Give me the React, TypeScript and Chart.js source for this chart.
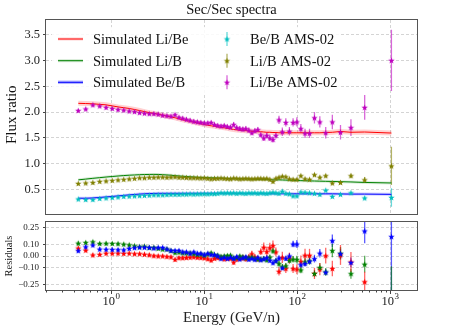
import React, { useEffect, useRef } from "react";
import { Chart, registerables } from "chart.js";
Chart.register(...registerables);

const FONT = '"Liberation Serif", "DejaVu Serif", serif';

// Kinetic energy per nucleon (GeV/n) of the AMS-02 bins
const energies = [0.445, 0.535, 0.638, 0.756, 0.885, 1.03, 1.19, 1.37, 1.57, 1.79,
  2.03, 2.29, 2.58, 2.89, 3.22, 3.59, 3.99, 4.41, 4.88, 5.38,
  5.90, 6.47, 7.09, 7.76, 8.48, 9.25, 10.07, 10.97, 11.94, 12.96,
  14.05, 15.23, 16.48, 17.82, 19.27, 20.82, 22.47, 24.24, 26.14, 28.16,
  30.34, 32.7, 35.2, 37.9, 40.8, 43.9, 47.3, 51.0, 55.1, 59.3,
  64.0, 69.5, 75.8, 82.8, 90.7, 99.7, 110, 121.9, 136.3, 154,
  175.9, 203.5, 239.7, 293.4, 380, 534, 1035];

// Li/Be
const liBeData = [2.03, 2.06, 2.14, 2.12, 2.09, 2.07, 2.05, 2.04, 2.02, 2.01,
  1.99, 1.98, 1.97, 1.97, 1.96, 1.94, 1.93, 1.92, 1.95, 1.90,
  1.88, 1.86, 1.84, 1.82, 1.81, 1.80, 1.79, 1.79, 1.80, 1.76,
  1.74, 1.73, 1.74, 1.72, 1.71, 1.76, 1.70, 1.68, 1.67, 1.68,
  1.65, 1.60, 1.64, 1.66, 1.56, 1.50, 1.55, 1.50, 1.47, 1.55,
  1.85, 1.62, 1.80, 1.63, 1.80, 1.81, 1.68, 1.59, 1.59, 1.89,
  1.81, 1.60, 1.81, 1.61, 1.70, 2.09, 3.00];
const liBeErr = [0.03, 0.03, 0.03, 0.03, 0.03, 0.03, 0.03, 0.03, 0.03, 0.03,
  0.03, 0.03, 0.03, 0.03, 0.03, 0.03, 0.03, 0.03, 0.03, 0.03,
  0.035, 0.035, 0.035, 0.035, 0.035, 0.035, 0.035, 0.035, 0.035, 0.035,
  0.035, 0.035, 0.035, 0.035, 0.035, 0.045, 0.045, 0.045, 0.045, 0.045,
  0.045, 0.045, 0.045, 0.045, 0.045, 0.06, 0.06, 0.06, 0.06, 0.06,
  0.08, 0.08, 0.08, 0.08, 0.08, 0.09, 0.09, 0.09, 0.09, 0.11,
  0.11, 0.11, 0.14, 0.14, 0.16, 0.24, 0.59];
const liBeModel = [2.17, 2.165, 2.16, 2.15, 2.14, 2.12, 2.10, 2.085, 2.07, 2.05,
  2.03, 2.01, 1.99, 1.975, 1.96, 1.94, 1.92, 1.905, 1.89, 1.87,
  1.85, 1.835, 1.82, 1.805, 1.79, 1.775, 1.76, 1.745, 1.735, 1.725,
  1.715, 1.705, 1.695, 1.685, 1.675, 1.665, 1.655, 1.65, 1.645, 1.64,
  1.635, 1.63, 1.625, 1.62, 1.62, 1.615, 1.61, 1.61, 1.605, 1.605,
  1.60, 1.60, 1.60, 1.60, 1.60, 1.60, 1.60, 1.60, 1.60, 1.60,
  1.60, 1.605, 1.61, 1.625, 1.61, 1.615, 1.595];

// Li/B
const liBData = [0.62, 0.63, 0.64, 0.66, 0.67, 0.68, 0.69, 0.70, 0.71, 0.72,
  0.73, 0.73, 0.74, 0.74, 0.745, 0.745, 0.74, 0.745, 0.75, 0.74,
  0.74, 0.735, 0.73, 0.73, 0.73, 0.725, 0.73, 0.72, 0.71, 0.72,
  0.72, 0.725, 0.72, 0.715, 0.71, 0.725, 0.72, 0.71, 0.715, 0.72,
  0.715, 0.71, 0.715, 0.72, 0.72, 0.715, 0.72, 0.70, 0.66, 0.72,
  0.74, 0.76, 0.75, 0.71, 0.70, 0.70, 0.77, 0.71, 0.70, 0.79,
  0.74, 0.77, 0.63, 0.64, 0.77, 0.69, 0.96];
const liBErr = [0.008, 0.008, 0.008, 0.008, 0.008, 0.008, 0.008, 0.008, 0.008, 0.008,
  0.008, 0.008, 0.008, 0.008, 0.008, 0.008, 0.008, 0.008, 0.008, 0.008,
  0.008, 0.008, 0.008, 0.008, 0.008, 0.008, 0.008, 0.008, 0.008, 0.008,
  0.01, 0.01, 0.01, 0.01, 0.01, 0.01, 0.01, 0.01, 0.01, 0.01,
  0.01, 0.01, 0.01, 0.01, 0.01, 0.015, 0.015, 0.015, 0.015, 0.015,
  0.02, 0.02, 0.02, 0.02, 0.02, 0.025, 0.025, 0.025, 0.025, 0.03,
  0.03, 0.03, 0.035, 0.035, 0.04, 0.055, 0.37];
const liBModel = [0.69, 0.705, 0.72, 0.733, 0.745, 0.755, 0.765, 0.773, 0.78, 0.785,
  0.79, 0.793, 0.795, 0.796, 0.795, 0.79, 0.785, 0.78, 0.772, 0.765,
  0.76, 0.755, 0.75, 0.745, 0.74, 0.737, 0.735, 0.732, 0.73, 0.728,
  0.725, 0.722, 0.72, 0.718, 0.715, 0.713, 0.71, 0.71, 0.71, 0.708,
  0.705, 0.703, 0.70, 0.70, 0.70, 0.698, 0.695, 0.693, 0.69, 0.69,
  0.69, 0.688, 0.685, 0.683, 0.68, 0.678, 0.675, 0.673, 0.67, 0.668,
  0.665, 0.662, 0.66, 0.655, 0.65, 0.64, 0.63];

// Be/B
const beBData = [0.32, 0.31, 0.31, 0.33, 0.34, 0.35, 0.36, 0.37, 0.375, 0.38,
  0.385, 0.39, 0.395, 0.40, 0.40, 0.40, 0.405, 0.41, 0.41, 0.41,
  0.415, 0.415, 0.42, 0.415, 0.42, 0.42, 0.425, 0.42, 0.425, 0.425,
  0.43, 0.44, 0.435, 0.44, 0.435, 0.44, 0.43, 0.44, 0.435, 0.43,
  0.44, 0.435, 0.44, 0.43, 0.44, 0.435, 0.43, 0.44, 0.45, 0.44,
  0.43, 0.47, 0.43, 0.42, 0.38, 0.38, 0.455, 0.45, 0.44, 0.43,
  0.41, 0.49, 0.37, 0.41, 0.44, 0.34, 0.35];
const beBErr = [0.005, 0.005, 0.005, 0.005, 0.005, 0.005, 0.005, 0.005, 0.005, 0.005,
  0.005, 0.005, 0.005, 0.005, 0.005, 0.005, 0.005, 0.005, 0.005, 0.005,
  0.005, 0.005, 0.005, 0.005, 0.005, 0.005, 0.005, 0.005, 0.005, 0.005,
  0.006, 0.006, 0.006, 0.006, 0.006, 0.006, 0.006, 0.006, 0.006, 0.006,
  0.006, 0.006, 0.006, 0.006, 0.006, 0.008, 0.008, 0.008, 0.008, 0.008,
  0.01, 0.01, 0.01, 0.01, 0.01, 0.012, 0.012, 0.012, 0.012, 0.015,
  0.015, 0.015, 0.018, 0.018, 0.02, 0.03, 0.18];
const beBModel = [0.335, 0.335, 0.34, 0.35, 0.36, 0.37, 0.38, 0.39, 0.40, 0.408,
  0.415, 0.42, 0.425, 0.428, 0.43, 0.43, 0.43, 0.43, 0.43, 0.43,
  0.43, 0.43, 0.43, 0.43, 0.43, 0.43, 0.43, 0.43, 0.43, 0.43,
  0.43, 0.43, 0.43, 0.43, 0.43, 0.43, 0.428, 0.428, 0.428, 0.427,
  0.427, 0.426, 0.426, 0.425, 0.425, 0.424, 0.424, 0.423, 0.423, 0.422,
  0.422, 0.421, 0.421, 0.42, 0.42, 0.42, 0.42, 0.42, 0.42, 0.42,
  0.42, 0.42, 0.42, 0.418, 0.415, 0.415, 0.41];

const mainYTicks = [0.5, 1.0, 1.5, 2.0, 2.5, 3.0, 3.5];
const resYTicks = [-0.25, -0.1, 0, 0.1, 0.25];
const xMajorTicks = [1, 10, 100, 1000];
const xMinorTicks = [0.2, 0.3, 0.4, 0.5, 0.6, 0.7, 0.8, 0.9, 2, 3, 4, 5, 6, 7, 8, 9,
  20, 30, 40, 50, 60, 70, 80, 90, 200, 300, 400, 500, 600, 700, 800, 900];

const RED = "#ff0000", GREEN = "#008000", BLUE = "#0000ff";
const CYAN = "#00bfbf", OLIVE = "#808000", MAG = "#bf00bf";
const GRID = "#d4d4d4";
const SPINE = "#555555";

const pts = (xs: number[], ys: number[]) => xs.map((x, i) => ({ x, y: ys[i] }));
const resid = (m: number[], d: number[]) => d.map((v, i) => (m[i] - v) / v);
const residErr = (m: number[], d: number[], e: number[]) => d.map((v, i) => (m[i] * e[i]) / (v * v));

function makeStar(color: string) {
  const size = 9;
  const c = document.createElement("canvas");
  c.width = size; c.height = size;
  const g = c.getContext("2d")!;
  const cx = size / 2, cy = size / 2 + 0.3;
  g.beginPath();
  for (let k = 0; k < 10; k++) {
    const r = k % 2 === 0 ? 3.4 : 1.4;
    const a = -Math.PI / 2 + (k * Math.PI) / 5;
    const px = cx + r * Math.cos(a), py = cy + r * Math.sin(a);
    if (k === 0) g.moveTo(px, py); else g.lineTo(px, py);
  }
  g.closePath();
  g.fillStyle = color;
  g.fill();
  return c;
}

const errorBarPlugin = {
  id: "errbars",
  beforeDatasetsDraw(chart: any) {
    const { ctx, chartArea: a, scales } = chart;
    ctx.save();
    ctx.beginPath();
    ctx.rect(a.left, a.top, a.right - a.left, a.bottom - a.top);
    ctx.clip();
    chart.data.datasets.forEach((ds: any) => {
      if (!ds.errors) return;
      ctx.strokeStyle = ds.errColor;
      ctx.lineWidth = 1.3;
      ds.data.forEach((p: any, i: number) => {
        const x = scales.x.getPixelForValue(p.x);
        const y1 = scales.y.getPixelForValue(p.y - ds.errors[i]);
        const y2 = scales.y.getPixelForValue(p.y + ds.errors[i]);
        ctx.beginPath();
        ctx.moveTo(x, y1);
        ctx.lineTo(x, y2);
        ctx.stroke();
      });
    });
    ctx.restore();
  },
};

function drawFrame(chart: any) {
  const { ctx, chartArea: a } = chart;
  ctx.save();
  ctx.strokeStyle = SPINE;
  ctx.lineWidth = 1;
  const l = Math.round(a.left) - 0.5, t = Math.round(a.top) - 0.5;
  const r = Math.round(a.right) + 0.5, b = Math.round(a.bottom) + 0.5;
  ctx.strokeRect(l, t, r - l, b - t);
  ctx.restore();
}

export default function App() {
  const mainRef = useRef<HTMLCanvasElement>(null);
  const resRef = useRef<HTMLCanvasElement>(null);

  useEffect(() => {
    const stars: Record<string, HTMLCanvasElement> = {
      c: makeStar(CYAN), o: makeStar(OLIVE), m: makeStar(MAG),
      r: makeStar(RED), g: makeStar(GREEN), b: makeStar(BLUE),
    };

    const line = (label: string, ys: number[], color: string, width: number, order: number) => ({
      type: "line" as const, label, data: pts(energies, ys), borderColor: color, borderWidth: width,
      pointRadius: 0, fill: false, tension: 0, order,
    });
    const scat = (label: string, ys: number[], errs: number[], star: HTMLCanvasElement, errColor: string) => ({
      type: "scatter" as const, label, data: pts(energies, ys), showLine: false,
      pointStyle: star, pointRadius: 4, order: 1, errors: errs, errColor,
    });

    const mainOverlay = {
      id: "mainOverlay",
      afterDraw(chart: any) {
        const { ctx, chartArea: a } = chart;
        drawFrame(chart);
        ctx.save();
        // title
        ctx.fillStyle = "#111";
        ctx.font = `14.5px ${FONT}`;
        ctx.textAlign = "center";
        ctx.textBaseline = "middle";
        ctx.fillText("Sec/Sec spectra", (a.left + a.right) / 2, 10);
        // y title
        ctx.save();
        ctx.translate(12, (a.top + a.bottom) / 2 - 2);
        ctx.rotate(-Math.PI / 2);
        ctx.font = `15px ${FONT}`;
        ctx.fillText("Flux ratio", 0, 0);
        ctx.restore();
        // legend
        ctx.fillStyle = "rgba(255,255,255,0.85)";
        ctx.fillRect(52, 27, 288, 68);
        const rows = [39, 60.7, 82.3];
        const models = [
          { t: "Simulated Li/Be", c: RED, band: "rgba(255,0,0,0.18)", bw: 3 },
          { t: "Simulated Li/B", c: GREEN, band: "rgba(0,128,0,0.18)", bw: 3 },
          { t: "Simulated Be/B", c: BLUE, band: "rgba(0,0,255,0.3)", bw: 3.5 },
        ];
        ctx.textAlign = "left";
        ctx.font = `14.5px ${FONT}`;
        models.forEach((m, i) => {
          const y = rows[i];
          ctx.strokeStyle = m.band; ctx.lineWidth = m.bw;
          ctx.beginPath(); ctx.moveTo(58, y); ctx.lineTo(83, y); ctx.stroke();
          ctx.strokeStyle = m.c; ctx.lineWidth = 1;
          ctx.beginPath(); ctx.moveTo(58, y); ctx.lineTo(83, y); ctx.stroke();
          ctx.fillStyle = "#111";
          ctx.fillText(m.t, 93, y + 1);
        });
        const obs = [
          { t: "Be/B AMS-02", s: stars.c, e: "rgba(0,191,191,0.6)" },
          { t: "Li/B AMS-02", s: stars.o, e: "rgba(128,128,0,0.6)" },
          { t: "Li/Be AMS-02", s: stars.m, e: "rgba(191,0,191,0.6)" },
        ];
        obs.forEach((o, i) => {
          const y = rows[i];
          ctx.strokeStyle = o.e; ctx.lineWidth = 1.3;
          ctx.beginPath(); ctx.moveTo(227, y - 7); ctx.lineTo(227, y + 7); ctx.stroke();
          ctx.drawImage(o.s, 227 - 4.5, y - 4.5);
          ctx.fillStyle = "#111";
          ctx.fillText(o.t, 250, y + 1);
        });
        ctx.restore();
      },
    };

    const xAfterBuildMain = (s: any) => { s.ticks = xMajorTicks.map((v) => ({ value: v })); };

    const c1 = new Chart(mainRef.current!, {
      type: "scatter",
      data: {
        datasets: [
          scat("Be/B AMS-02", beBData, beBErr, stars.c, "rgba(0,191,191,0.6)"),
          scat("Li/B AMS-02", liBData, liBErr, stars.o, "rgba(128,128,0,0.6)"),
          scat("Li/Be AMS-02", liBeData, liBeErr, stars.m, "rgba(191,0,191,0.6)"),
          line("Simulated Li/Be", liBeModel, RED, 1, 5),
          line("Simulated Li/B", liBModel, GREEN, 1, 5),
          line("Simulated Be/B", beBModel, BLUE, 1, 5),
          line("band Li/Be", liBeModel, "rgba(255,0,0,0.18)", 5, 8),
          line("band Li/B", liBModel, "rgba(0,128,0,0.15)", 3, 8),
          line("band Be/B", beBModel, "rgba(0,0,255,0.2)", 3, 8),
        ] as any,
      },
      options: {
        animation: false,
        responsive: false,
        maintainAspectRatio: false,
        devicePixelRatio: 1,
        events: [],
        layout: { padding: { left: 0, right: 47, top: 20, bottom: 2 } },
        plugins: { legend: { display: false }, title: { display: false }, tooltip: { enabled: false } },
        scales: {
          x: {
            type: "logarithmic", min: 0.2, max: 1950,
            afterBuildTicks: xAfterBuildMain,
            ticks: { display: false },
            grid: { color: GRID, drawTicks: false, lineWidth: 1 },
            border: { display: false, dash: [3, 2] },
            afterFit: (s: any) => { s.height = 0; },
          },
          y: {
            min: 0.04, max: 3.78,
            afterBuildTicks: (s: any) => { s.ticks = mainYTicks.map((v) => ({ value: v })); },
            ticks: { color: "#222", font: { family: FONT, size: 12.5 }, padding: 3, callback: (v: any) => Number(v).toFixed(1) },
            grid: { color: GRID, tickLength: 3, tickColor: "#444", lineWidth: 1 },
            border: { display: false, dash: [3, 2] },
            afterFit: (s: any) => { s.width = 46; },
          },
        },
      } as any,
      plugins: [errorBarPlugin, mainOverlay],
    });

    const resOverlay = {
      id: "resOverlay",
      afterDraw(chart: any) {
        const { ctx, chartArea: a, scales } = chart;
        drawFrame(chart);
        ctx.save();
        const b = Math.round(a.bottom) + 0.5;
        ctx.strokeStyle = "#444";
        ctx.lineWidth = 1;
        xMajorTicks.forEach((v) => {
          const x = Math.round(scales.x.getPixelForValue(v)) + 0.5;
          ctx.beginPath(); ctx.moveTo(x, b); ctx.lineTo(x, b + 3.5); ctx.stroke();
        });
        xMinorTicks.forEach((v) => {
          const x = Math.round(scales.x.getPixelForValue(v)) + 0.5;
          ctx.beginPath(); ctx.moveTo(x, b); ctx.lineTo(x, b + 2); ctx.stroke();
        });
        // x tick labels 10^n
        ctx.fillStyle = "#222";
        ctx.textBaseline = "alphabetic";
        ctx.textAlign = "left";
        xMajorTicks.forEach((v) => {
          const x = scales.x.getPixelForValue(v);
          const exp = String(Math.round(Math.log10(v)));
          ctx.font = `12.5px ${FONT}`;
          const w1 = ctx.measureText("10").width;
          ctx.font = `9px ${FONT}`;
          const w2 = ctx.measureText(exp).width;
          const x0 = x - (w1 + w2) / 2;
          ctx.font = `12.5px ${FONT}`;
          ctx.fillText("10", x0, a.bottom + 15);
          ctx.font = `9px ${FONT}`;
          ctx.fillText(exp, x0 + w1 + 0.5, a.bottom + 9);
        });
        // x title
        ctx.textAlign = "center";
        ctx.textBaseline = "middle";
        ctx.font = `15px ${FONT}`;
        ctx.fillText("Energy (GeV/n)", (a.left + a.right) / 2, 106);
        // y title
        ctx.save();
        ctx.translate(9, (a.top + a.bottom) / 2);
        ctx.rotate(-Math.PI / 2);
        ctx.font = `10.5px ${FONT}`;
        ctx.fillText("Residuals", 0, 0);
        ctx.restore();
        ctx.restore();
      },
    };

    const rscat = (label: string, m: number[], d: number[], e: number[], star: HTMLCanvasElement, errColor: string) => ({
      type: "scatter" as const, label, data: pts(energies, resid(m, d)), showLine: false,
      pointStyle: star, pointRadius: 4, errors: residErr(m, d, e), errColor,
    });

    const c2 = new Chart(resRef.current!, {
      type: "scatter",
      data: {
        datasets: [
          rscat("Be/B residual", beBModel, beBData, beBErr, stars.b, "rgba(0,0,255,0.65)"),
          rscat("Li/B residual", liBModel, liBData, liBErr, stars.g, "rgba(0,128,0,0.65)"),
          rscat("Li/Be residual", liBeModel, liBeData, liBeErr, stars.r, "rgba(255,0,0,0.6)"),
        ] as any,
      },
      options: {
        animation: false,
        responsive: false,
        maintainAspectRatio: false,
        devicePixelRatio: 1,
        events: [],
        layout: { padding: { left: 0, right: 47, top: 10, bottom: 0 } },
        plugins: { legend: { display: false }, title: { display: false }, tooltip: { enabled: false } },
        scales: {
          x: {
            type: "logarithmic", min: 0.2, max: 1950,
            afterBuildTicks: (s: any) => { s.ticks = xMajorTicks.map((v) => ({ value: v })); },
            ticks: { display: false },
            grid: { color: GRID, drawTicks: false, lineWidth: 1 },
            border: { display: false, dash: [3, 2] },
            afterFit: (s: any) => { s.height = 42; },
          },
          y: {
            min: -0.3, max: 0.3,
            afterBuildTicks: (s: any) => { s.ticks = resYTicks.map((v) => ({ value: v })); },
            ticks: {
              color: "#222", font: { family: FONT, size: 9 }, padding: 4,
              callback: (v: any) => { const n = Number(v); const s = Math.abs(n).toFixed(2); return n < 0 ? "\u2212" + s : s; },
            },
            grid: { color: GRID, tickLength: 3, tickColor: "#444", lineWidth: 1 },
            border: { display: false, dash: [3, 2] },
            afterFit: (s: any) => { s.width = 46; },
          },
        },
      } as any,
      plugins: [errorBarPlugin, resOverlay],
    });

    return () => { c1.destroy(); c2.destroy(); };
  }, []);

  return (
    <div style={{ position: "absolute", left: 0, top: 0, width: 464, height: 332, background: "#fff", overflow: "hidden" }}>
      <canvas ref={mainRef} width={464} height={224} style={{ position: "absolute", left: 0, top: 0, width: 464, height: 224 }} />
      <canvas ref={resRef} width={464} height={120} style={{ position: "absolute", left: 0, top: 212, width: 464, height: 120 }} />
    </div>
  );
}
